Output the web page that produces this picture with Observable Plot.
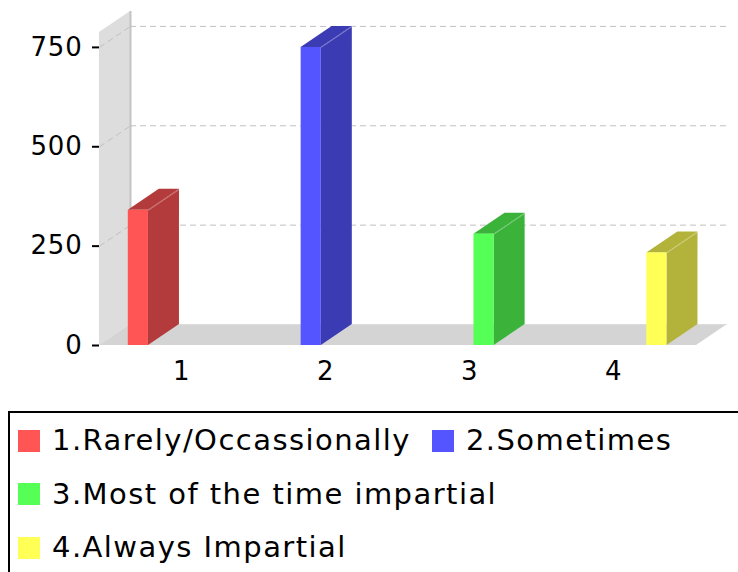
<!DOCTYPE html>
<html>
<head>
<meta charset="utf-8">
<script src="https://cdn.jsdelivr.net/npm/d3@7"></script>
<script src="https://cdn.jsdelivr.net/npm/@observablehq/plot@0.6"></script>
<style>
  html, body { margin: 0; padding: 0; background: #fff; overflow: hidden; }
  body { width: 738px; height: 572px; position: relative; font-family: "DejaVu Sans", sans-serif; }
  #chart svg { display: block; }
  #chart g[aria-label="y-axis tick"] path, #chart g[aria-label="y-axis"] .tick line { stroke-width: 2; }
  #chart g[aria-label="y-axis tick label"] text, #chart g[aria-label="x-axis tick label"] text { letter-spacing: 0.8px; }
  #legend {
    position: absolute; left: 8px; top: 411px; width: 740px; height: 200px;
    border: 2px solid #000; box-sizing: border-box; padding: 1px 0 0 8px;
    display: flex; flex-wrap: wrap; align-content: flex-start;
  }
  .item { display: flex; align-items: center; height: 53.5px; margin-right: 21px; }
  .sw { width: 22px; height: 22px; margin-right: 12px; flex: none; }
  .lbl { font-size: 29px; letter-spacing: 1.45px; line-height: 53.5px; color: #000; white-space: nowrap; }
</style>
</head>
<body>
<div id="chart"></div>
<div id="legend"></div>
<script>
// ---- data ----
const categories = ["1", "2", "3", "4"];
const seriesNames = ["1.Rarely/Occassionally", "2.Sometimes", "3.Most of the time impartial", "4.Always Impartial"];
const values = [340, 750, 280, 233];
const yTicks = [0, 250, 500, 750];
const palette = ["#FF5555", "#5555FF", "#55FF55", "#FFFF55"];

// ---- layout ----
const W = 738, H = 400, mL = 99, mR = 42, mT = 32, mB = 55;
const xDomain = [0.43, 4.575];
const yDomain = [0, 787.5];
const pxPerX = (W - mL - mR) / (xDomain[1] - xDomain[0]);
const pxPerY = (H - mT - mB) / (yDomain[1] - yDomain[0]);
const depthPx = [31, 21];
const dX = depthPx[0] / pxPerX;   // 3D depth in x data units
const dY = depthPx[1] / pxPerY;   // 3D depth in y data units
const slot = 0.2, barW = 0.14;
const x0 = xDomain[0], x4 = xDomain[1], yMax = yDomain[1];
const dark = palette.map(c => d3.rgb(c).darker(1).formatHex());

const bars = values.map((v, i) => {
  const xc = (categories.indexOf(String(i + 1)) + 1) + (i - (seriesNames.length - 1) / 2) * slot;
  return {i, name: seriesNames[i], value: v, xl: xc - barW / 2, xr: xc + barW / 2};
});
const sidePts = bars.flatMap(d => [
  {i: d.i, x: d.xr, y1: 0, y2: d.value},
  {i: d.i, x: d.xr + dX, y1: dY, y2: d.value + dY}
]);
const topPts = bars.flatMap(d => [
  {i: d.i, y: d.value, x1: d.xl, x2: d.xr},
  {i: d.i, y: d.value + dY, x1: d.xl + dX, x2: d.xr + dX}
]);
const gridTicks = yTicks.filter(t => t > 0);

const plot = Plot.plot({
  width: W, height: H,
  marginLeft: mL, marginRight: mR, marginTop: mT, marginBottom: mB,
  style: {fontFamily: "DejaVu Sans", fontSize: "26px", color: "#000", background: "transparent", overflow: "visible"},
  x: {domain: xDomain, ticks: [1, 2, 3, 4], tickFormat: d => categories[d - 1], tickSize: 0, tickPadding: 16, label: null},
  y: {domain: yDomain, ticks: yTicks, tickSize: 7, tickPadding: 10, label: null},
  color: {type: "identity"},
  marks: [
    // left wall
    Plot.areaY([{x: x0, y1: 0, y2: yMax}, {x: x0 + dX, y1: dY, y2: yMax + dY}],
      {x: "x", y1: "y1", y2: "y2", fill: "#dddddd"}),
    Plot.ruleX([x0 + dX], {y1: dY, y2: yMax + dY, stroke: "#c4c4c4", strokeWidth: 2}),
    // floor
    Plot.areaX([{y: 0, x1: x0, x2: x4}, {y: dY, x1: x0 + dX, x2: x4 + dX}],
      {y: "y", x1: "x1", x2: "x2", fill: "#d4d4d4"}),
    Plot.ruleY([dY], {x1: x0 + dX, x2: x4 + dX, stroke: "#dcdcdc", strokeWidth: 1}),
    // grid lines on wall and back plane
    Plot.link(gridTicks, {x1: () => x0, y1: d => d, x2: () => x0 + dX, y2: d => d + dY,
      stroke: "#c0c0c0", strokeWidth: 1, strokeDasharray: "6,4"}),
    Plot.ruleY(gridTicks, {y: d => d + dY, x1: x0 + dX, x2: x4 + dX,
      stroke: "#c0c0c0", strokeWidth: 1, strokeDasharray: "6,4"}),
    // bars: side, top, front
    Plot.areaY(sidePts, {x: "x", y1: "y1", y2: "y2", z: "i", fill: d => dark[d.i]}),
    Plot.areaX(topPts, {y: "y", x1: "x1", x2: "x2", z: "i", fill: d => dark[d.i]}),
    Plot.link(bars, {x1: "xr", y1: "value", x2: d => d.xr + dX, y2: d => d.value + dY,
      stroke: "#ffffff", strokeOpacity: 0.3, strokeWidth: 1}),
    Plot.rect(bars, {x1: "xl", x2: "xr", y1: () => 0, y2: "value", fill: d => palette[d.i]})
  ]
});
document.getElementById("chart").appendChild(plot);

// ---- legend ----
const legend = d3.select("#legend");
seriesNames.forEach((name, i) => {
  const item = legend.append("div").attr("class", "item");
  item.append("div").attr("class", "sw").style("background", palette[i]);
  item.append("span").attr("class", "lbl").text(name);
});
</script>
</body>
</html>
